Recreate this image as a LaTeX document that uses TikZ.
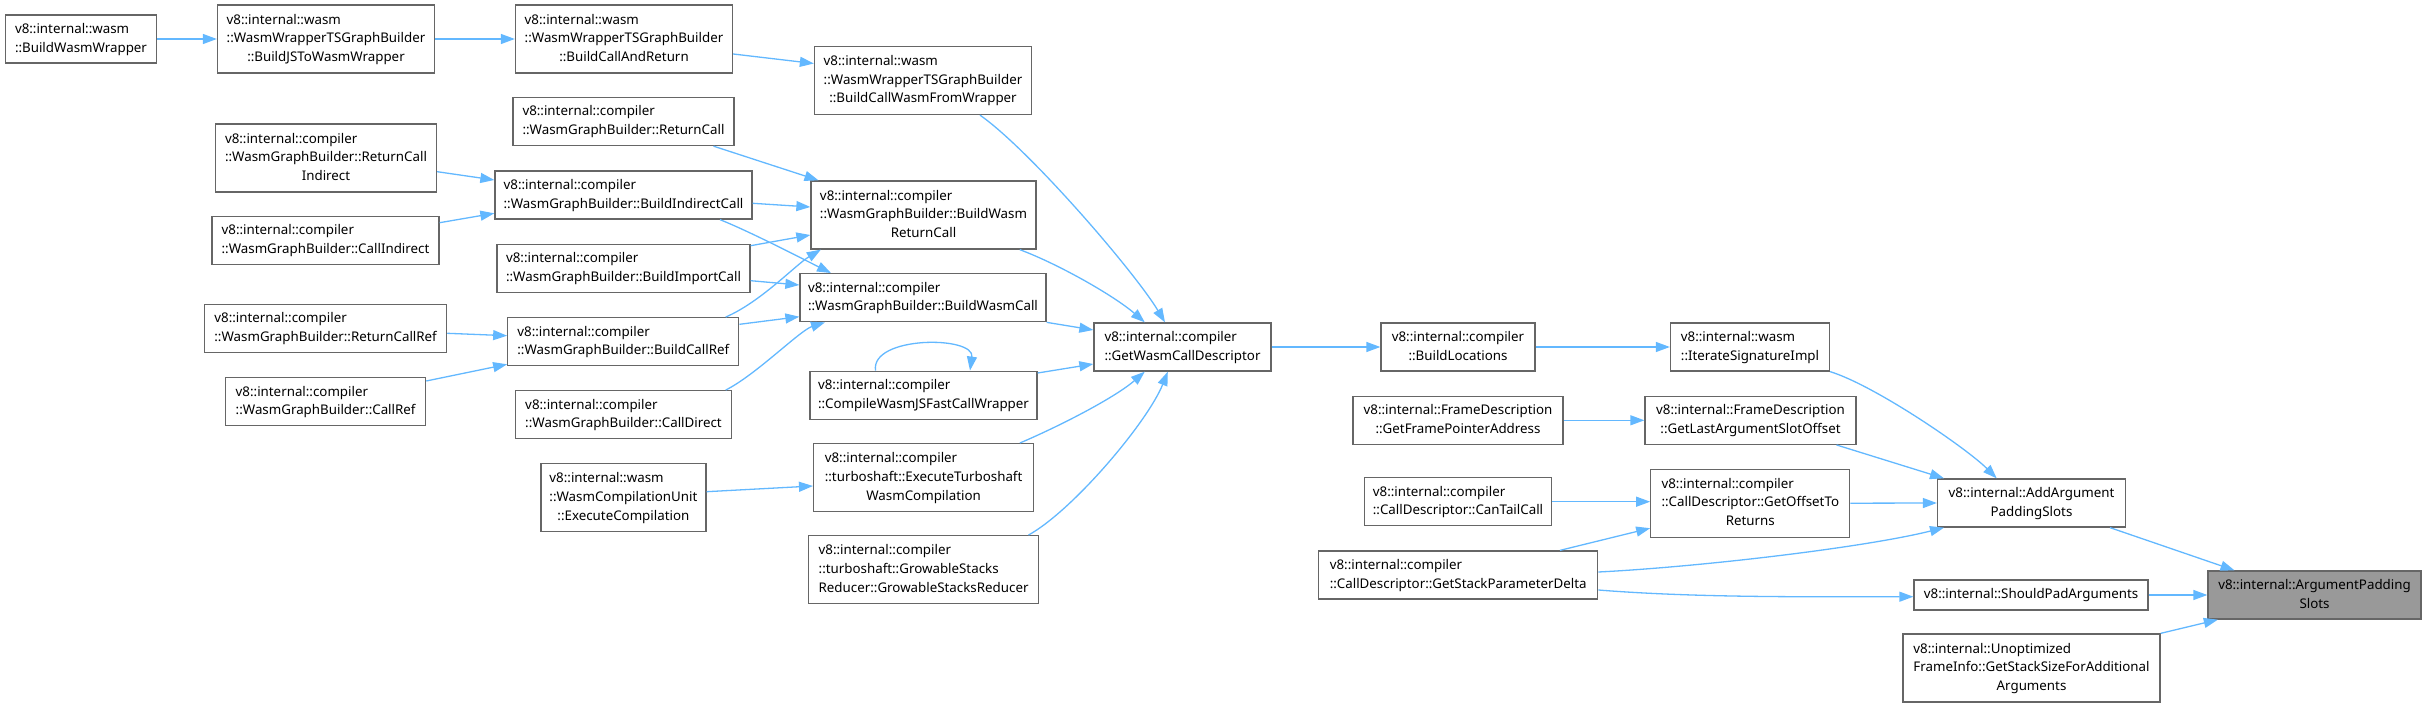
\documentclass[tikz,border=0pt]{standalone}
\usepackage{fontspec}
\setmainfont{Noto Sans}
\usetikzlibrary{arrows.meta}
\definecolor{edgec}{HTML}{63B8FF}
\definecolor{boxc}{HTML}{666666}
\definecolor{rootc}{HTML}{999999}
\newcommand\bt[2]{\begin{tabular}{@{}l@{}}#1\\\multicolumn{1}{@{}c@{}}{#2}\end{tabular}}
\tikzset{
  box/.style={draw=boxc, line width=1.3pt, fill=white, inner sep=0pt, font=\fontsize{13.33}{18.7}\selectfont},
  rootbox/.style={box, fill=rootc},
  conn/.style={draw=edgec, line width=1.3pt, -{Triangle[length=14pt,width=10pt]}}
}
\begin{document}
\begin{tikzpicture}[x=1pt,y=-1pt]
\useasboundingbox (0,0) rectangle (2427,708);
% column 0
\node[box,minimum width=151pt,minimum height=48pt] (bww) at (81,39) {\bt{v8::internal::wasm}{::BuildWasmWrapper}};
% column 1
\node[box,minimum width=217pt,minimum height=68pt] (bjs) at (326,39) {\bt{v8::internal::wasm\\::WasmWrapperTSGraphBuilder}{::BuildJSToWasmWrapper}};
\node[box,minimum width=221pt,minimum height=68pt] (rci) at (326,158) {\bt{v8::internal::compiler\\::WasmGraphBuilder::ReturnCall}{Indirect}};
\node[box,minimum width=227pt,minimum height=48pt] (ci) at (325.5,240.5) {\bt{v8::internal::compiler}{::WasmGraphBuilder::CallIndirect}};
\node[box,minimum width=242pt,minimum height=48pt] (rcr) at (325.6,328.3) {\bt{v8::internal::compiler}{::WasmGraphBuilder::ReturnCallRef}};
\node[box,minimum width=200pt,minimum height=48pt] (cr) at (325.6,401.7) {\bt{v8::internal::compiler}{::WasmGraphBuilder::CallRef}};
% column 2
\node[box,minimum width=217pt,minimum height=68pt] (bcar) at (624,39) {\bt{v8::internal::wasm\\::WasmWrapperTSGraphBuilder}{::BuildCallAndReturn}};
\node[box,minimum width=221pt,minimum height=48pt] (rc) at (623.5,121.5) {\bt{v8::internal::compiler}{::WasmGraphBuilder::ReturnCall}};
\node[box,minimum width=257pt,minimum height=48pt] (bic) at (623.5,195) {\bt{v8::internal::compiler}{::WasmGraphBuilder::BuildIndirectCall}};
\node[box,minimum width=253pt,minimum height=48pt] (bimp) at (623.5,268.3) {\bt{v8::internal::compiler}{::WasmGraphBuilder::BuildImportCall}};
\node[box,minimum width=231pt,minimum height=48pt] (bcr) at (623.3,341.7) {\bt{v8::internal::compiler}{::WasmGraphBuilder::BuildCallRef}};
\node[box,minimum width=216pt,minimum height=48pt] (cd) at (623.5,414.7) {\bt{v8::internal::compiler}{::WasmGraphBuilder::CallDirect}};
\node[box,minimum width=165pt,minimum height=68pt] (wcu) at (623.4,497.7) {\bt{v8::internal::wasm\\::WasmCompilationUnit}{::ExecuteCompilation}};
% column 3
\node[box,minimum width=217pt,minimum height=68pt] (bcwfw) at (923,80.5) {\bt{v8::internal::wasm\\::WasmWrapperTSGraphBuilder}{::BuildCallWasmFromWrapper}};
\node[box,minimum width=225pt,minimum height=68pt] (bwrc) at (923.5,215) {\bt{v8::internal::compiler\\::WasmGraphBuilder::BuildWasm}{ReturnCall}};
\node[box,minimum width=246pt,minimum height=48pt] (bwc) at (923,297.7) {\bt{v8::internal::compiler}{::WasmGraphBuilder::BuildWasmCall}};
\node[box,minimum width=227pt,minimum height=48pt] (cwjs) at (923.5,395.2) {\bt{v8::internal::compiler}{::CompileWasmJSFastCallWrapper}};
\node[box,minimum width=220pt,minimum height=68pt] (etw) at (923.6,477.7) {\bt{v8::internal::compiler\\::turboshaft::ExecuteTurboshaft}{WasmCompilation}};
\node[box,minimum width=230pt,minimum height=68pt] (gsr) at (923.6,569.7) {\bt{v8::internal::compiler\\::turboshaft::GrowableStacks}{Reducer::GrowableStacksReducer}};
% column 4
\node[box,minimum width=177pt,minimum height=48pt] (gwcd) at (1182.5,347) {\bt{v8::internal::compiler}{::GetWasmCallDescriptor}};
% column 5
\node[box,minimum width=154pt,minimum height=48pt] (bl) at (1458,347) {\bt{v8::internal::compiler}{::BuildLocations}};
\node[box,minimum width=210pt,minimum height=48pt] (gfpa) at (1458,420.3) {\bt{v8::internal::FrameDescription}{::GetFramePointerAddress}};
\node[box,minimum width=187pt,minimum height=48pt] (ctc) at (1458,501.7) {\bt{v8::internal::compiler}{::CallDescriptor::CanTailCall}};
\node[box,minimum width=279pt,minimum height=48pt] (gspd) at (1458.2,575) {\bt{v8::internal::compiler}{::CallDescriptor::GetStackParameterDelta}};
% column 6
\node[box,minimum width=159pt,minimum height=48pt] (isi) at (1750,347) {\bt{v8::internal::wasm}{::IterateSignatureImpl}};
\node[box,minimum width=211pt,minimum height=48pt] (glaso) at (1750.5,420.3) {\bt{v8::internal::FrameDescription}{::GetLastArgumentSlotOffset}};
\node[box,minimum width=199pt,minimum height=68pt] (gotr) at (1750.3,503.2) {\bt{v8::internal::compiler\\::CallDescriptor::GetOffsetTo}{Returns}};
% column 7
\node[box,minimum width=188pt,minimum height=48pt] (aaps) at (2031.5,503) {\bt{v8::internal::AddArgument}{PaddingSlots}};
\node[box,minimum width=234pt,minimum height=30pt] (spa) at (2031,595) {v8::internal::ShouldPadArguments};
\node[box,minimum width=257pt,minimum height=68pt] (ufi) at (2031.5,668) {\bt{v8::internal::Unoptimized\\FrameInfo::GetStackSizeForAdditional}{Arguments}};
% root
\node[rootbox,minimum width=213pt,minimum height=48pt] (aps) at (2314.5,595) {\bt{v8::internal::ArgumentPadding}{Slots}};

% connectors
\draw[conn] (bww.east) -- (bjs.west);
\draw[conn] (bjs.east) -- (bcar.west);
\draw[conn] ([yshift=-15pt]bcar.east) -- ([yshift=17pt]bcwfw.west);
\draw[conn] ([xshift=57pt]bcwfw.south) .. controls +(50,35) and +(-30,-50) .. ([xshift=-17.5pt]gwcd.north);
\draw[conn] ([xshift=90pt]rc.south) -- ([xshift=-105pt]bwrc.north);
\draw[conn] ([yshift=-13.7pt]rci.east) -- ([yshift=15pt]bic.west);
\draw[conn] ([yshift=17.8pt]ci.east) -- ([yshift=-18.3pt]bic.west);
\draw[conn] ([yshift=-8.3pt]bic.east) -- ([yshift=8pt]bwrc.west);
\draw[conn] ([xshift=96.5pt]bic.south) .. controls +(30,12) and +(-30,-15) .. ([xshift=-92pt]bwc.north);
\draw[conn] ([yshift=22.6pt]bimp.east) -- ([yshift=-20pt]bwrc.west);
\draw[conn] ([yshift=-12.4pt]bimp.east) -- ([yshift=12.7pt]bwc.west);
\draw[conn] ([xshift=102.4pt]bcr.north) .. controls +(35,-15) and +(-25,15) .. ([xshift=-102.7pt]bwrc.south);
\draw[conn] ([yshift=17.4pt]bcr.east) -- ([yshift=-19pt]bwc.west);
\draw[conn] ([yshift=-5pt]rcr.east) -- ([yshift=6pt]bcr.west);
\draw[conn] ([yshift=20.7pt]cr.east) -- ([yshift=-22.6pt]bcr.west);
\draw[conn] ([xshift=102.2pt]cd.north) .. controls +(30,-15) and +(-25,8) .. ([xshift=-98pt]bwc.south);
\draw[conn] ([xshift=96.3pt]bwrc.south) .. controls +(40,15) and +(-30,-26) .. ([xshift=-37.7pt]gwcd.north);
\draw[conn] (bwc.south east) -- ([yshift=17pt]gwcd.west);
\draw[conn] ([yshift=22.2pt]cwjs.east) -- ([yshift=-17pt]gwcd.west);
\draw[conn] ([xshift=-48pt]cwjs.north) .. controls +(-5,-35) and +(5,-35) .. ([xshift=46.5pt]cwjs.north);
\draw[conn] ([xshift=96.2pt]etw.north) .. controls +(40,-17) and +(-30,26) .. ([xshift=-37.7pt]gwcd.south);
\draw[conn] ([xshift=104.9pt]gsr.north) .. controls +(45,-25) and +(-20,50) .. ([xshift=-14.7pt]gwcd.south);
\draw[conn] ([yshift=6pt]wcu.east) -- ([yshift=-8.3pt]etw.west);
\draw[conn] (gwcd.east) -- (bl.west);
\draw[conn] (bl.east) -- (isi.west);
\draw[conn] (isi.south east) .. controls +(45,14) and +(-30,-30) .. ([xshift=-34.8pt]aaps.north);
\draw[conn] (gfpa.east) -- (glaso.west);
\draw[conn] ([xshift=86pt]glaso.south) -- ([xshift=-87.5pt]aaps.north);
\draw[conn] (ctc.east) -- (ctc.east -| gotr.west);
\draw[conn] (gotr.east) -- (aaps.west);
\draw[conn] ([xshift=101.8pt]gspd.north) -- ([yshift=-25pt]gotr.west);
\draw[conn] ([yshift=3pt]gspd.east) .. controls +(100,-5) and +(-80,20) .. ([xshift=-87.5pt]aaps.south);
\draw[conn] ([yshift=-15pt]gspd.east) .. controls +(100,8) and +(-100,0) .. ([yshift=-1.7pt]spa.west);
\draw[conn] ([xshift=78.5pt]aaps.south) -- ([xshift=-80pt]aps.north);
\draw[conn] (spa.east) -- (spa.east -| aps.west);
\draw[conn] (ufi.north east) -- ([xshift=-96.7pt]aps.south);
\end{tikzpicture}
\end{document}
